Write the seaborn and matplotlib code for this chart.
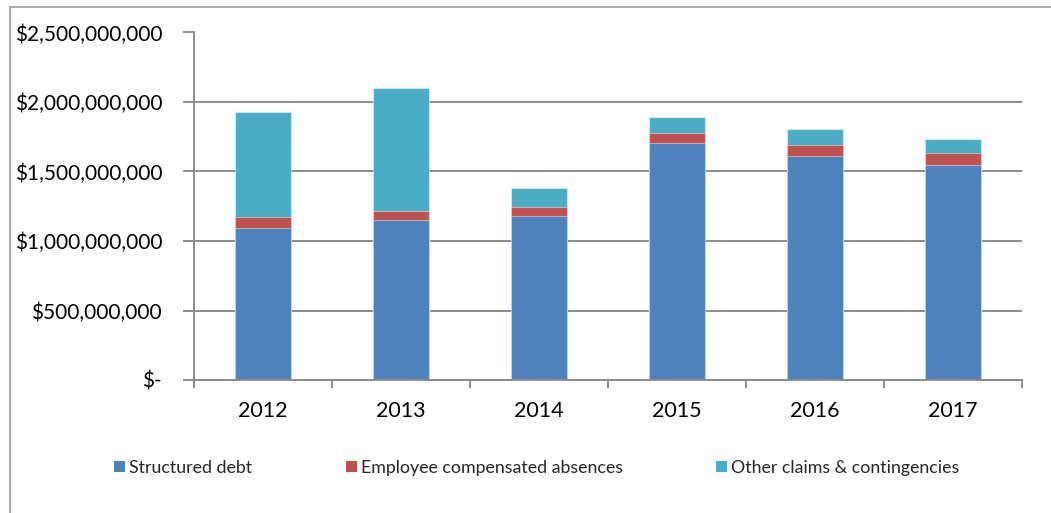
import numpy as np
import pandas as pd
import seaborn as sns
import matplotlib
matplotlib.use("Agg")
import matplotlib.pyplot as plt
from matplotlib.patches import Rectangle, Patch
from matplotlib.ticker import FuncFormatter

years = ["2012", "2013", "2014", "2015", "2016", "2017"]
structured_debt = [1091e6, 1149e6, 1180e6, 1703e6, 1609e6, 1547e6]
employee_absences = [84e6, 67e6, 62e6, 72e6, 79e6, 84e6]
other_claims = [751e6, 885e6, 137e6, 119e6, 118e6, 103e6]

series_names = ["Structured debt", "Employee compensated absences",
                "Other claims & contingencies"]
series_colors = ["#4F81BD", "#C0504D", "#4BACC6"]

sns.set_theme(style="white")
plt.rcParams["font.family"] = ["Lato", "DejaVu Sans"]

fig = plt.figure(figsize=(10.51, 5.13), dpi=100)
ax = fig.add_axes([194 / 1051, 1 - 380 / 513, (1022 - 194) / 1051, (380 - 32.5) / 513])

df = pd.DataFrame({
    "year": years,
    "s1": np.array(structured_debt),
    "s2": np.array(structured_debt) + np.array(employee_absences),
    "s3": np.array(structured_debt) + np.array(employee_absences) + np.array(other_claims),
})

# Stacked bars drawn as layered cumulative totals, tallest first
for col, color in zip(["s3", "s2", "s1"], series_colors[::-1]):
    sns.barplot(data=df, x="year", y=col, color=color, width=0.40, ax=ax,
                saturation=1, edgecolor=(1, 1, 1, 0.45), linewidth=0.8,
                errorbar=None, zorder=3)

ax.set_xlim(-0.5, 5.5)
ax.set_ylim(0, 2.5e9)
ax.set_yticks(np.arange(0, 2.5e9 + 1, 5e8))

def money(v, pos):
    if v == 0:
        return "$-"
    return "${:,.0f}".format(v)

ax.yaxis.set_major_formatter(FuncFormatter(money))
ax.set_xlabel("")
ax.set_ylabel("")

grid_color = "#8C8C8C"
ax.grid(axis="y", color=grid_color, linewidth=1.4, zorder=0)
ax.set_axisbelow(True)
for side in ["top", "right"]:
    ax.spines[side].set_visible(False)
for side in ["left", "bottom"]:
    ax.spines[side].set_color(grid_color)
    ax.spines[side].set_linewidth(1.4)
    ax.spines[side].set_zorder(4)

ax.tick_params(axis="y", which="major", direction="out", length=8, width=1.4,
               color=grid_color, labelsize=15, labelcolor="black", pad=15, left=True)
# Category labels without tick marks; separators as minor ticks between categories
ax.tick_params(axis="x", which="major", length=0, labelsize=15.5,
               labelcolor="black", pad=15)
ax.set_xticks(np.arange(-0.5, 6, 1), minor=True)
ax.tick_params(axis="x", which="minor", direction="out", length=6, width=1.4,
               color=grid_color, bottom=True)

handles = [Patch(facecolor=c, edgecolor="none") for c in series_colors]
fig.legend(handles, series_names, loc="center", bbox_to_anchor=(537 / 1051, 1 - 468 / 513),
           ncol=3, frameon=False, fontsize=12.8, handlelength=0.6, handleheight=0.6,
           handletextpad=0.25, columnspacing=5.25)

# Outer chart border
fig.patches.append(Rectangle((9.5 / 1051, -0.1), 1.2, (513 - 7.5) / 513 + 0.1,
                             transform=fig.transFigure, fill=False,
                             edgecolor="#A6A6A6", linewidth=1.3))

fig.savefig("out.png", dpi=100)
